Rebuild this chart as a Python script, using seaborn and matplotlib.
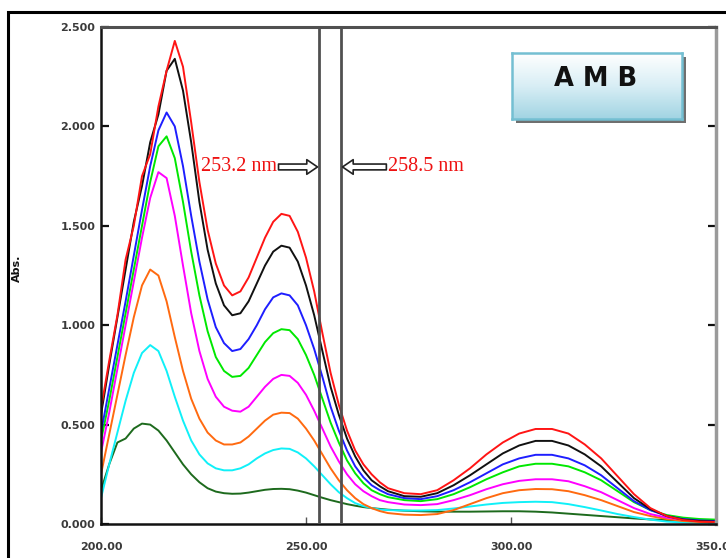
import numpy as np
import pandas as pd
import matplotlib
matplotlib.use("Agg")
import matplotlib.pyplot as plt
import seaborn as sns
from matplotlib.patches import Rectangle
from matplotlib.colors import LinearSegmentedColormap

# ---------------- data ----------------
wavelength = [200, 202, 204, 206, 208, 210, 212, 214, 216, 218, 220, 222, 224, 226, 228,
              230, 232, 234, 236, 238, 240, 242, 244, 246, 248, 250, 252, 254, 256, 258,
              260, 262, 264, 266, 268, 270, 274, 278, 282, 286, 290, 294, 298, 302, 306,
              310, 314, 318, 322, 326, 330, 334, 338, 342, 346, 350]

red = [0.58, 0.82, 1.05, 1.33, 1.50, 1.75, 1.86, 2.10, 2.28, 2.43, 2.30, 2.02, 1.72, 1.48, 1.31,
       1.20, 1.15, 1.17, 1.24, 1.34, 1.44, 1.52, 1.56, 1.55, 1.47, 1.34, 1.17, 0.96, 0.76, 0.60,
       0.47, 0.37, 0.30, 0.25, 0.21, 0.18, 0.155, 0.15, 0.17, 0.22, 0.28, 0.35, 0.41, 0.455, 0.478,
       0.478, 0.455, 0.40, 0.33, 0.24, 0.15, 0.08, 0.04, 0.02, 0.012, 0.01]
black = [0.55, 0.80, 1.04, 1.28, 1.52, 1.70, 1.92, 2.06, 2.28, 2.34, 2.18, 1.92, 1.62, 1.38, 1.21,
         1.10, 1.05, 1.06, 1.12, 1.21, 1.30, 1.37, 1.40, 1.39, 1.32, 1.20, 1.05, 0.87, 0.69, 0.55,
         0.43, 0.34, 0.27, 0.22, 0.19, 0.165, 0.14, 0.137, 0.155, 0.195, 0.245, 0.30, 0.355, 0.395, 0.418,
         0.418, 0.395, 0.35, 0.29, 0.21, 0.13, 0.075, 0.04, 0.022, 0.015, 0.012]
blue = [0.46, 0.68, 0.90, 1.12, 1.35, 1.58, 1.80, 1.98, 2.07, 2.00, 1.80, 1.55, 1.32, 1.13, 0.99,
        0.91, 0.87, 0.88, 0.93, 1.00, 1.08, 1.14, 1.16, 1.15, 1.10, 1.00, 0.88, 0.74, 0.59, 0.47,
        0.37, 0.29, 0.235, 0.195, 0.17, 0.15, 0.13, 0.125, 0.14, 0.17, 0.21, 0.255, 0.30, 0.33, 0.348,
        0.348, 0.33, 0.295, 0.245, 0.18, 0.115, 0.07, 0.04, 0.025, 0.018, 0.015]
green = [0.42, 0.62, 0.84, 1.06, 1.28, 1.50, 1.72, 1.90, 1.95, 1.84, 1.62, 1.37, 1.15, 0.97, 0.84,
         0.77, 0.74, 0.745, 0.785, 0.85, 0.915, 0.96, 0.98, 0.975, 0.93, 0.85, 0.75, 0.63, 0.51, 0.41,
         0.32, 0.255, 0.205, 0.17, 0.15, 0.135, 0.12, 0.115, 0.125, 0.15, 0.185, 0.225, 0.26, 0.29, 0.303,
         0.303, 0.29, 0.26, 0.22, 0.165, 0.11, 0.07, 0.045, 0.032, 0.025, 0.022]
magenta = [0.36, 0.56, 0.78, 1.00, 1.22, 1.44, 1.64, 1.77, 1.74, 1.55, 1.30, 1.06, 0.87, 0.73, 0.64,
           0.59, 0.57, 0.565, 0.59, 0.64, 0.69, 0.73, 0.75, 0.745, 0.71, 0.65, 0.57, 0.48, 0.39, 0.315,
           0.25, 0.20, 0.165, 0.14, 0.12, 0.11, 0.098, 0.095, 0.10, 0.12, 0.145, 0.175, 0.20, 0.217, 0.225,
           0.225, 0.215, 0.19, 0.16, 0.12, 0.08, 0.05, 0.032, 0.022, 0.018, 0.015]
orange = [0.25, 0.45, 0.65, 0.85, 1.04, 1.20, 1.28, 1.25, 1.12, 0.94, 0.77, 0.63, 0.53, 0.46, 0.42,
          0.40, 0.40, 0.41, 0.44, 0.48, 0.52, 0.55, 0.56, 0.558, 0.53, 0.48, 0.42, 0.35, 0.28, 0.22,
          0.17, 0.13, 0.10, 0.08, 0.065, 0.055, 0.047, 0.045, 0.05, 0.07, 0.10, 0.13, 0.155, 0.17, 0.176,
          0.175, 0.165, 0.145, 0.12, 0.09, 0.06, 0.04, 0.025, 0.015, 0.01, 0.008]
cyan = [0.13, 0.30, 0.46, 0.62, 0.76, 0.86, 0.90, 0.87, 0.77, 0.64, 0.52, 0.42, 0.35, 0.305, 0.28,
        0.27, 0.27, 0.28, 0.30, 0.33, 0.355, 0.372, 0.38, 0.378, 0.36, 0.33, 0.29, 0.245, 0.20, 0.16,
        0.13, 0.105, 0.09, 0.08, 0.073, 0.07, 0.068, 0.068, 0.07, 0.078, 0.088, 0.098, 0.106, 0.11, 0.112,
        0.11, 0.10, 0.085, 0.068, 0.05, 0.035, 0.022, 0.012, 0.008, 0.006, 0.005]
dark_green = [0.17, 0.30, 0.41, 0.43, 0.48, 0.505, 0.50, 0.47, 0.42, 0.36, 0.30, 0.25, 0.21, 0.18, 0.163,
              0.155, 0.152, 0.153, 0.158, 0.165, 0.172, 0.176, 0.177, 0.175, 0.168, 0.158, 0.145, 0.132, 0.12, 0.11,
              0.10, 0.092, 0.085, 0.08, 0.076, 0.072, 0.067, 0.064, 0.062, 0.062, 0.062, 0.063, 0.064, 0.064, 0.062,
              0.058, 0.052, 0.046, 0.04, 0.034, 0.028, 0.023, 0.02, 0.017, 0.014, 0.012]

series_order = ["dark_green", "cyan", "orange", "magenta", "green", "blue", "black", "red"]
series_values = {"red": red, "black": black, "blue": blue, "green": green,
                 "magenta": magenta, "orange": orange, "cyan": cyan, "dark_green": dark_green}
palette = {"red": "#ff1515", "black": "#111111", "blue": "#1e1eff", "green": "#00e800",
           "magenta": "#ff00ff", "orange": "#ff6a10", "cyan": "#10f0f8", "dark_green": "#1d6a1d"}

marker_nm = [253.2, 258.5]
x_ticks = [200, 250, 300, 350]
y_ticks = [0.0, 0.5, 1.0, 1.5, 2.0, 2.5]
title_box = "AMB"
y_label = "Abs."

rows = []
for name in series_order:
    for w, v in zip(wavelength, series_values[name]):
        rows.append({"nm": w, "abs": v, "series": name})
df = pd.DataFrame(rows)

# ---------------- figure ----------------
sns.set_style("white")
plt.rcParams['font.family'] = ['DejaVu Sans']

W, H = 726, 558
fig = plt.figure(figsize=(W / 100, H / 100), dpi=100)
ax_l, ax_r, ax_t, ax_b = 101, 716, 27, 524
ax = fig.add_axes([ax_l / W, 1 - ax_b / H, (ax_r - ax_l) / W, (ax_b - ax_t) / H])
ax.set_facecolor("white")

sns.lineplot(data=df, x="nm", y="abs", hue="series", hue_order=series_order,
             palette=palette, estimator=None, sort=False, lw=1.4, legend=False, ax=ax)

for m in marker_nm:
    ax.axvline(m, color="#505050", lw=2.0, zorder=5)

ax.set_xlim(200, 350)
ax.set_ylim(0, 2.5)
ax.set_xticks(x_ticks)
ax.set_xticklabels([f"{v:.2f}" for v in x_ticks])
ax.set_yticks(y_ticks)
ax.set_yticklabels([f"{v:.3f}" for v in y_ticks])
ax.set_xlabel("")
ax.set_ylabel("")

ax.tick_params(axis="y", which="both", direction="in", left=True, right=True,
               length=6, width=1.6, color="#111111", labelsize=8, labelcolor="#3a3a3a", pad=4)
ax.tick_params(axis="x", which="both", direction="in", bottom=True, top=False,
               length=5, width=1.0, color="#555555", labelsize=8, labelcolor="#3a3a3a", pad=13)
for lab in ax.get_xticklabels() + ax.get_yticklabels():
    lab.set_fontweight("bold")

ax.spines["left"].set_color("#111111")
ax.spines["left"].set_linewidth(1.8)
ax.spines["bottom"].set_color("#111111")
ax.spines["bottom"].set_linewidth(1.8)
ax.spines["top"].set_color("#505050")
ax.spines["top"].set_linewidth(2.2)
ax.spines["right"].set_color("#9a9a9a")
ax.spines["right"].set_linewidth(2.5)

# annotations
y_ann = 1.796
ax.text(243.0, y_ann, f"{marker_nm[0]} nm", color="#ee1111", fontsize=14.5,
        family=["Liberation Serif"], ha="right", va="center", zorder=6)
ax.text(270.1, y_ann, f"{marker_nm[1]} nm", color="#ee1111", fontsize=14.5,
        family=["Liberation Serif"], ha="left", va="center", zorder=6)
astyle = "simple,head_length=0.55,head_width=0.75,tail_width=0.3"
ax.annotate("", xy=(marker_nm[0] - 0.4, y_ann), xytext=(243.3, y_ann),
            arrowprops=dict(arrowstyle=astyle, fc="white", ec="#222222", lw=1.2,
                            shrinkA=0, shrinkB=0, mutation_scale=14), zorder=6)
ax.annotate("", xy=(marker_nm[1] + 0.4, y_ann), xytext=(269.6, y_ann),
            arrowprops=dict(arrowstyle=astyle, fc="white", ec="#222222", lw=1.2,
                            shrinkA=0, shrinkB=0, mutation_scale=14), zorder=6)

# y label
fig.text(17 / W, 1 - 268 / H, y_label, rotation=90, fontsize=8, fontweight="bold",
         ha="center", va="center", color="#111111")

# AMB box with shadow and gradient
bx0, bx1, by0, by1 = 512, 682, 53, 119
shadow = Rectangle(((bx0 + 4) / W, 1 - (by1 + 4) / H), (bx1 - bx0) / W, (by1 - by0) / H,
                   transform=fig.transFigure, facecolor="#6f6f6f", edgecolor="none", zorder=0.5)
fig.add_artist(shadow)
bax = fig.add_axes([bx0 / W, 1 - by1 / H, (bx1 - bx0) / W, (by1 - by0) / H])
bax.set_zorder(1)
cmap = LinearSegmentedColormap.from_list("box", ["#ffffff", "#d8eef5", "#a2d4e3"])
grad = np.linspace(0, 1, 100).reshape(-1, 1)
bax.imshow(grad, aspect="auto", cmap=cmap, extent=[0, 1, 0, 1], origin="upper")
bax.set_xticks([])
bax.set_yticks([])
for s in bax.spines.values():
    s.set_color("#74bfd2")
    s.set_linewidth(1.8)
bax.text(0.49, 0.6, "A M B", transform=bax.transAxes, ha="center", va="center",
         fontsize=18.5, fontweight="bold", color="#111111")

# outer frame
frame = Rectangle((8 / W, -0.2), 2.0, 1.2 - 12 / H, transform=fig.transFigure,
                  fill=False, edgecolor="#000000", lw=2.2, zorder=3)
fig.add_artist(frame)

fig.savefig("out.png", dpi=100)
